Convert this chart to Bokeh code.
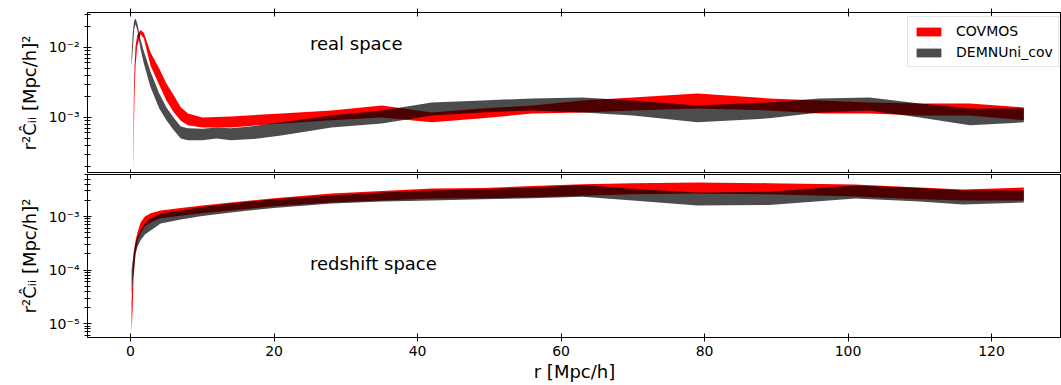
from bokeh.plotting import figure
from bokeh.layouts import column
from bokeh.models import (Range1d, FixedTicker, CustomJSTickFormatter,
                          Label, LinearAxis, Legend, LegendItem, ColumnDataSource)
from bokeh.embed import file_html
from bokeh.resources import INLINE

FONT = "DejaVu Sans"

# ---------------- data ----------------
# real space, COVMOS
r_cov_real = [0.38, 0.46, 0.56, 0.70, 0.93, 1.39, 1.85, 2.79, 4.0, 5.0, 6.0, 7.0, 8.0, 10, 14, 21, 28,
              35, 42, 49, 56, 63, 70, 79, 89, 96, 103, 110, 117, 124.5]
cov_real_lo = [1.75e-4, 6.0e-4, 2.2e-3, 5.5e-3, 1.05e-2, 1.55e-2, 1.35e-2, 5.5e-3, 2.9e-3, 1.75e-3,
               1.2e-3, 9.0e-4, 7.7e-4, 7.2e-4, 7.2e-4, 8.2e-4, 9.1e-4, 1.0e-3, 8.5e-4, 9.7e-4,
               1.14e-3, 1.18e-3, 1.26e-3, 1.34e-3, 1.26e-3, 1.14e-3, 1.14e-3, 1.07e-3, 1.07e-3, 9.1e-4]
cov_real_hi = [3.0e-4, 2.2e-3, 5.5e-3, 1.05e-2, 1.5e-2, 1.78e-2, 1.62e-2, 8.5e-3, 5.0e-3, 3.06e-3,
               2.1e-3, 1.4e-3, 1.14e-3, 1.0e-3, 1.03e-3, 1.14e-3, 1.26e-3, 1.48e-3, 1.18e-3, 1.34e-3,
               1.48e-3, 1.75e-3, 1.93e-3, 2.2e-3, 1.87e-3, 1.75e-3, 1.64e-3, 1.58e-3, 1.58e-3, 1.39e-3]

# real space, DEMNUni_cov
r_dem_real = [0.14, 0.3, 0.5, 0.7, 0.95, 1.39, 1.85, 2.79, 4.0, 5.0, 6.0, 7.0, 8.0, 10, 12, 14, 17, 21,
              28, 35, 42, 49, 56, 63, 70, 79, 89, 96, 103, 110, 117, 124.5]
dem_real_lo = [5.3e-3, 9.0e-3, 1.8e-2, 2.15e-2, 1.75e-2, 9.5e-3, 5.9e-3, 2.7e-3, 1.34e-3, 9.1e-4,
               6.6e-4, 5.0e-4, 4.7e-4, 4.7e-4, 5.0e-4, 4.7e-4, 4.9e-4, 5.5e-4, 7.2e-4, 8.2e-4,
               1.07e-3, 1.18e-3, 1.26e-3, 1.18e-3, 1.07e-3, 8.5e-4, 9.7e-4, 1.18e-3, 1.26e-3, 1.0e-3,
               7.7e-4, 8.5e-4]
dem_real_hi = [7.5e-3, 1.6e-2, 2.4e-2, 2.6e-2, 2.2e-2, 1.3e-2, 8.8e-3, 4.5e-3, 2.2e-3, 1.39e-3,
               1.0e-3, 7.4e-4, 7.0e-4, 6.9e-4, 7.2e-4, 7.0e-4, 7.5e-4, 8.5e-4, 1.07e-3, 1.26e-3,
               1.64e-3, 1.75e-3, 1.87e-3, 1.93e-3, 1.75e-3, 1.48e-3, 1.64e-3, 1.87e-3, 1.93e-3, 1.58e-3,
               1.34e-3, 1.34e-3]

# redshift space, COVMOS
r_cov_rsd = [0.14, 0.3, 0.42, 0.7, 1.0, 1.4, 2.0, 2.8, 4.2, 7, 10, 14, 20, 28, 35, 42, 49, 56, 63, 70,
             79, 89, 101, 110, 116, 124.5]
cov_rsd_lo = [7e-6, 2.0e-5, 7e-5, 2.2e-4, 3.6e-4, 4.8e-4, 6.5e-4, 7.7e-4, 9.3e-4, 1.04e-3, 1.15e-3,
              1.30e-3, 1.55e-3, 1.83e-3, 2.0e-3, 2.17e-3, 2.2e-3, 2.3e-3, 2.45e-3, 2.6e-3, 2.69e-3,
              2.6e-3, 2.37e-3, 2.1e-3, 1.99e-3, 1.99e-3]
cov_rsd_hi = [2.5e-5, 8e-5, 2.0e-4, 3.6e-4, 5.2e-4, 7.7e-4, 1.0e-3, 1.15e-3, 1.3e-3, 1.45e-3, 1.6e-3,
              1.83e-3, 2.2e-3, 2.69e-3, 3.0e-3, 3.34e-3, 3.4e-3, 3.7e-3, 4.0e-3, 4.2e-3, 4.33e-3,
              4.2e-3, 3.97e-3, 3.5e-3, 3.2e-3, 3.48e-3]

# redshift space, DEMNUni_cov
r_dem_rsd = [0.14, 0.42, 0.7, 1.0, 1.4, 2.0, 2.8, 4.2, 7, 10, 14, 20, 28, 35, 42, 49, 56, 63, 70, 79,
             89, 101, 110, 116, 124.5]
dem_rsd_lo = [3.5e-5, 9e-5, 2.0e-4, 2.8e-4, 3.6e-4, 4.6e-4, 5.5e-4, 7.4e-4, 8.8e-4, 1.02e-3, 1.19e-3,
              1.45e-3, 1.75e-3, 1.9e-3, 1.99e-3, 2.1e-3, 2.2e-3, 2.35e-3, 2.0e-3, 1.61e-3, 1.65e-3,
              2.17e-3, 1.9e-3, 1.68e-3, 1.83e-3]
dem_rsd_hi = [1.0e-4, 2.0e-4, 3.2e-4, 4.3e-4, 5.5e-4, 7.3e-4, 9.2e-4, 1.14e-3, 1.3e-3, 1.5e-3, 1.75e-3,
              2.1e-3, 2.47e-3, 2.8e-3, 3.06e-3, 3.25e-3, 3.5e-3, 3.9e-3, 3.3e-3, 2.81e-3, 2.9e-3,
              3.8e-3, 3.4e-3, 3.06e-3, 3.06e-3]

decades = [1e-6, 1e-5, 1e-4, 1e-3, 1e-2, 1e-1]
x_ticks = [0, 20, 40, 60, 80, 100, 120]
series_labels = ["COVMOS", "DEMNUni_cov"]
ylabel = "r\u00b2\u0108\u1d62\u1d62 [Mpc/h]\u00b2"
xlabel = "r [Mpc/h]"

# --------------- styling helpers ---------------
minors = [m * d for d in decades for m in range(2, 10)]
log_fmt = CustomJSTickFormatter(code="""
const sup = {'-':'\u207b','0':'\u2070','1':'\u00b9','2':'\u00b2','3':'\u00b3','4':'\u2074',
             '5':'\u2075','6':'\u2076','7':'\u2077','8':'\u2078','9':'\u2079'};
const e = Math.round(Math.log10(tick));
return '10' + String(e).split('').map(c => sup[c]).join('');
""")

x_range = Range1d(-6.0, 129.75)


def tick_axis(ax, labels=True):
    ax.ticker = FixedTicker(ticks=x_ticks)
    ax.axis_line_color = "black"
    ax.major_tick_line_color = "black"
    ax.minor_tick_line_color = None
    ax.major_tick_in = 4
    ax.major_tick_out = 4 if labels else 0
    if labels:
        ax.major_label_text_font = FONT
        ax.major_label_text_font_size = "14px"
        ax.major_label_text_color = "black"
        ax.major_label_standoff = 4
    else:
        ax.major_label_text_font_size = "0px"
        ax.major_label_standoff = 0


def make_panel(frame_h, yr, top_border):
    p = figure(frame_width=974, frame_height=frame_h, x_range=x_range, y_range=yr,
               y_axis_type="log", x_axis_location=None, output_backend="svg",
               toolbar_location=None, min_border_left=87, min_border_right=0,
               min_border_top=top_border, min_border_bottom=0,
               background_fill_color="white", border_fill_color="white")
    p.xgrid.visible = False
    p.ygrid.visible = False
    p.outline_line_color = "black"
    p.outline_line_width = 1
    ax = p.yaxis[0]
    ax.ticker = FixedTicker(ticks=decades, minor_ticks=minors)
    ax.formatter = log_fmt
    ax.axis_line_color = "black"
    ax.major_tick_line_color = "black"
    ax.minor_tick_line_color = "black"
    ax.major_tick_in = 4
    ax.major_tick_out = 4
    ax.minor_tick_in = 3
    ax.minor_tick_out = 3
    ax.major_label_text_font = FONT
    ax.major_label_text_font_size = "14px"
    ax.major_label_text_color = "black"
    ax.major_label_standoff = 4
    ax.axis_label = ylabel
    ax.axis_label_text_font = FONT
    ax.axis_label_text_font_size = "18px"
    ax.axis_label_text_font_style = "normal"
    ax.axis_label_text_color = "black"
    ax.axis_label_standoff = 6
    return p


def bands(p, r1, lo1, hi1, r2, lo2, hi2):
    a = p.varea(x="r", y1="lo", y2="hi", source=ColumnDataSource(dict(r=r1, lo=lo1, hi=hi1)),
                fill_color="#ff0000", fill_alpha=1.0)
    b = p.varea(x="r", y1="lo", y2="hi", source=ColumnDataSource(dict(r=r2, lo=lo2, hi=hi2)),
                fill_color="#000000", fill_alpha=0.7)
    return a, b


# --------------- top panel: real space ---------------
p1 = make_panel(161, Range1d(1.58e-4, 3.16e-2), 12)
top_ax = LinearAxis()
tick_axis(top_ax, labels=False)
top_ax.major_tick_out = 4
p1.add_layout(top_ax, "above")
bot_ax1 = LinearAxis()
tick_axis(bot_ax1, labels=False)
p1.add_layout(bot_ax1, "below")

ra, rb = bands(p1, r_cov_real, cov_real_lo, cov_real_hi, r_dem_real, dem_real_lo, dem_real_hi)
p1.add_layout(Label(x=25, y=0.0114, text="real space", text_font=FONT, text_font_size="18px",
                    text_baseline="middle", text_color="black"))

legend = Legend(items=[LegendItem(label=series_labels[0], renderers=[ra]),
                       LegendItem(label=series_labels[1], renderers=[rb])],
                location=(820, 106), margin=0, padding=5, spacing=3,
                glyph_width=31, glyph_height=11, label_height=18, label_standoff=12,
                label_text_font=FONT, label_text_font_size="14px", label_text_color="black",
                border_line_color="#cccccc", border_line_width=1, background_fill_alpha=1.0)
p1.add_layout(legend)

# --------------- bottom panel: redshift space ---------------
p2 = make_panel(163, Range1d(5.5e-6, 6.1e-3), 1)
top_ax2 = LinearAxis()
tick_axis(top_ax2, labels=False)
p2.add_layout(top_ax2, "above")
bot_ax2 = LinearAxis()
tick_axis(bot_ax2, labels=True)
bot_ax2.axis_label = xlabel
bot_ax2.axis_label_text_font = FONT
bot_ax2.axis_label_text_font_size = "18px"
bot_ax2.axis_label_text_font_style = "normal"
bot_ax2.axis_label_text_color = "black"
bot_ax2.axis_label_standoff = 2
p2.add_layout(bot_ax2, "below")

bands(p2, r_cov_rsd, cov_rsd_lo, cov_rsd_hi, r_dem_rsd, dem_rsd_lo, dem_rsd_hi)
p2.add_layout(Label(x=25, y=1.32e-4, text="redshift space", text_font=FONT, text_font_size="18px",
                    text_baseline="middle", text_color="black"))

layout = column(p1, p2, spacing=0)
open("out.html", "w").write(file_html(layout, INLINE))
